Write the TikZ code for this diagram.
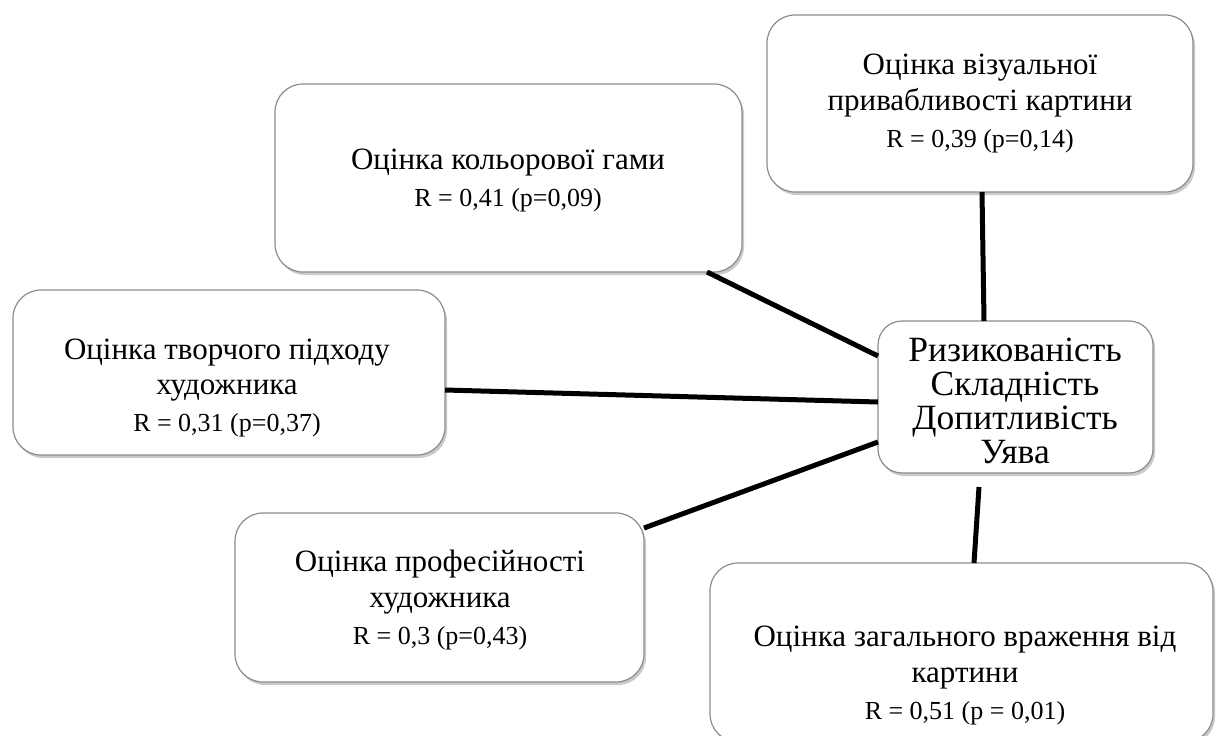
\documentclass[tikz,border=0pt]{standalone}
\usepackage{fontspec}
\setmainfont{Liberation Serif}
\usetikzlibrary{shadows}
\begin{document}
\begin{tikzpicture}[x=1pt,y=-1pt,
  box/.style={draw=black!45, line width=1.2pt, rounded corners=28pt, fill=white,
    drop shadow={shadow xshift=2pt, shadow yshift=-3pt, opacity=0.35, fill=black!60},
    inner sep=0pt, outer sep=0pt},
  cbox/.style={box, rounded corners=24pt},
  txt/.style={align=center, inner sep=0pt, font=\fontsize{31}{36}\selectfont},
  rtxt/.style={font=\fontsize{26}{30}\selectfont},
  ctxt/.style={align=center, inner sep=0pt, font=\fontsize{35.5}{34}\selectfont},
  link/.style={line width=5pt, black}]
\useasboundingbox (0,0) rectangle (1216,736);
% boxes
\node[box, minimum width=467pt, minimum height=188pt] (kol) at (508.5,178) {};
\node[box, minimum width=426pt, minimum height=177pt] (vis) at (980,103.5) {};
\node[box, minimum width=432pt, minimum height=165pt] (tvo) at (229,372.5) {};
\node[cbox, minimum width=275pt, minimum height=152pt] (ctr) at (1015.5,397) {};
\node[box, minimum width=409pt, minimum height=169pt] (pro) at (439.5,597.5) {};
\node[box, minimum width=503pt, minimum height=179pt] (zag) at (961.5,652.5) {};
% texts
\node[txt] (kolt) at (508,181) {Оцінка кольорової гами\\[1pt]{\fontsize{26}{30}\selectfont R = 0,41 (p=0,09)}};
\node[txt] (vist) at (980,104) {Оцінка візуальної\\привабливості картини\\[1pt]{\fontsize{26}{30}\selectfont R = 0,39 (p=0,14)}};
\node[txt] (tvot) at (227,388) {Оцінка творчого підходу\\художника\\[1pt]{\fontsize{26}{30}\selectfont R = 0,31 (p=0,37)}};
\node[txt] (prot) at (440,600) {Оцінка професійності\\художника\\[1pt]{\fontsize{26}{30}\selectfont R = 0,3 (p=0,43)}};
\node[txt] (zagt) at (965,675) {Оцінка загального враження від\\картини\\[1pt]{\fontsize{26}{30}\selectfont R = 0,51 (p = 0,01)}};
\node[ctxt] (ctrt) at (1015,401) {Ризикованість\\Складність\\Допитливість\\Уява};
% connectors
\draw[link] ([shift={(-35,0)}]kol.south east) -- ([shift={(0,-41)}]ctr.west);
\draw[link] ([shift={(2,0)}]vis.south) -- ([shift={(-31.5,0)}]ctr.north);
\draw[link] ([shift={(0,17.5)}]tvo.east) -- ([shift={(0,5)}]ctr.west);
\draw[link] ([shift={(0,15)}]pro.north east) -- ([shift={(0,45)}]ctr.west);
\draw[link] ([shift={(-36.5,14)}]ctr.south) -- ([shift={(12.5,0)}]zag.north);
\end{tikzpicture}
\end{document}
